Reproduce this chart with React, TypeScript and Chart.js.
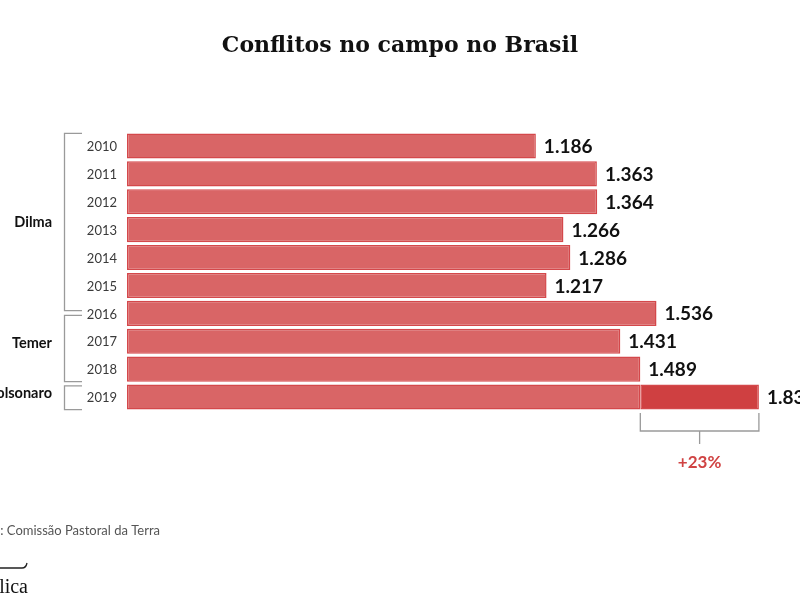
import React, { useEffect, useRef } from "react";
import { Chart, registerables } from "chart.js";

Chart.register(...registerables);

const years = ["2010", "2011", "2012", "2013", "2014", "2015", "2016", "2017", "2018", "2019"];
const conflicts = [1186, 1363, 1364, 1266, 1286, 1217, 1536, 1431, 1489, 1833];
const groupLabels = ["Dilma", "Temer", "Bolsonaro"];
const titleText = "Conflitos no campo no Brasil";
const sourceText = "Fonte: Comissão Pastoral da Terra";
const logoText = "Pública";

const last = conflicts.length - 1;
const baseValues = conflicts.map((v, i) => (i === last ? conflicts[last - 1] : v));
const extraValues = conflicts.map((v, i) => (i === last ? v - conflicts[last - 1] : 0));

const fmt = (n: number) => String(n).replace(/\B(?=(\d{3})+(?!\d))/g, ".");

const decorPlugin = {
  id: "decor",
  afterDraw(chart: any) {
    const ctx = chart.ctx as CanvasRenderingContext2D;
    const x = chart.scales.x;
    const y = chart.scales.y;
    const area = chart.chartArea;
    const step = y.getPixelForValue(1) - y.getPixelForValue(0);
    ctx.save();

    // title
    ctx.fillStyle = "#111";
    ctx.font = "bold 22px 'DejaVu Serif'";
    ctx.textAlign = "center";
    ctx.textBaseline = "middle";
    ctx.fillText(titleText, 400, 46);

    // year labels
    ctx.font = "13px Lato";
    ctx.fillStyle = "#3a3a3a";
    ctx.textAlign = "right";
    years.forEach((yr, i) => {
      ctx.fillText(yr, 117, y.getPixelForValue(i) + 1);
    });

    // value labels
    ctx.font = "bold 19px Lato";
    ctx.fillStyle = "#111";
    ctx.textAlign = "left";
    conflicts.forEach((v, i) => {
      ctx.fillText(fmt(v), x.getPixelForValue(v) + 8, y.getPixelForValue(i) + 1);
    });

    // group brackets
    const tops = [-0.45, 6.07, 8.6];
    const bottoms = [5.9, 8.45, 9.45];
    const labelOffsets = [0, -5, -4];
    ctx.strokeStyle = "#9a9a9a";
    ctx.lineWidth = 1.3;
    groupLabels.forEach((g, k) => {
      const t = y.getPixelForValue(0) + tops[k] * step;
      const b = y.getPixelForValue(0) + bottoms[k] * step;
      ctx.beginPath();
      ctx.moveTo(82, t);
      ctx.lineTo(64.5, t);
      ctx.lineTo(64.5, b);
      ctx.lineTo(82, b);
      ctx.stroke();
      ctx.fillStyle = "#111";
      ctx.font = "bold 14.5px Lato";
      ctx.textAlign = "right";
      ctx.fillText(g, 52, (t + b) / 2 + labelOffsets[k]);
    });

    // increase bracket
    const xl = x.getPixelForValue(conflicts[last - 1]);
    const xr = x.getPixelForValue(conflicts[last]);
    const by = area.bottom + 20;
    ctx.beginPath();
    ctx.moveTo(xl, area.bottom + 2);
    ctx.lineTo(xl, by);
    ctx.lineTo(xr, by);
    ctx.lineTo(xr, area.bottom + 2);
    ctx.moveTo((xl + xr) / 2, by);
    ctx.lineTo((xl + xr) / 2, by + 13);
    ctx.stroke();
    const pct = Math.round(((conflicts[last] - conflicts[last - 1]) / conflicts[last - 1]) * 100);
    ctx.fillStyle = "#d04343";
    ctx.font = "bold 17px Lato";
    ctx.textAlign = "center";
    ctx.fillText("+" + pct + "%", (xl + xr) / 2, by + 32);

    // source
    ctx.fillStyle = "#555";
    ctx.font = "13px Lato";
    ctx.textAlign = "right";
    ctx.fillText(sourceText, 160, 531);

    // logo
    ctx.strokeStyle = "#222";
    ctx.lineWidth = 1.3;
    ctx.beginPath();
    ctx.moveTo(0, 568);
    ctx.lineTo(22, 568);
    ctx.quadraticCurveTo(26, 568, 27, 563);
    ctx.stroke();
    ctx.fillStyle = "#111";
    ctx.font = "20px 'Liberation Serif'";
    ctx.textAlign = "right";
    ctx.textBaseline = "alphabetic";
    ctx.fillText(logoText, 28, 593);

    ctx.restore();
  },
};

export default function App() {
  const ref = useRef<HTMLCanvasElement | null>(null);
  useEffect(() => {
    if (!ref.current) return;
    const chart = new Chart(ref.current, {
      type: "bar",
      data: {
        labels: years,
        datasets: [
          {
            data: baseValues,
            backgroundColor: "#d96566",
            borderColor: "#d4484b",
            borderWidth: 1.5,
            borderSkipped: false,
            barPercentage: 0.9,
            categoryPercentage: 1,
          },
          {
            data: extraValues,
            backgroundColor: "#cf4041",
            borderColor: "#d4484b",
            borderWidth: 1.5,
            borderSkipped: false,
            barPercentage: 0.9,
            categoryPercentage: 1,
          },
        ],
      },
      options: {
        indexAxis: "y",
        responsive: false,
        animation: false,
        devicePixelRatio: 1,
        layout: { padding: { left: 127, right: 18, top: 132, bottom: 189 } },
        plugins: { legend: { display: false }, tooltip: { enabled: false }, title: { display: false } },
        scales: {
          x: { stacked: true, min: 0, max: 1900, display: false },
          y: { stacked: true, display: false },
        },
      },
      plugins: [decorPlugin],
    });
    return () => chart.destroy();
  }, []);
  return (
    <div style={{ position: "fixed", left: 0, top: 0, width: 800, height: 600, background: "#fff" }}>
      <canvas ref={ref} width={800} height={600} />
    </div>
  );
}
